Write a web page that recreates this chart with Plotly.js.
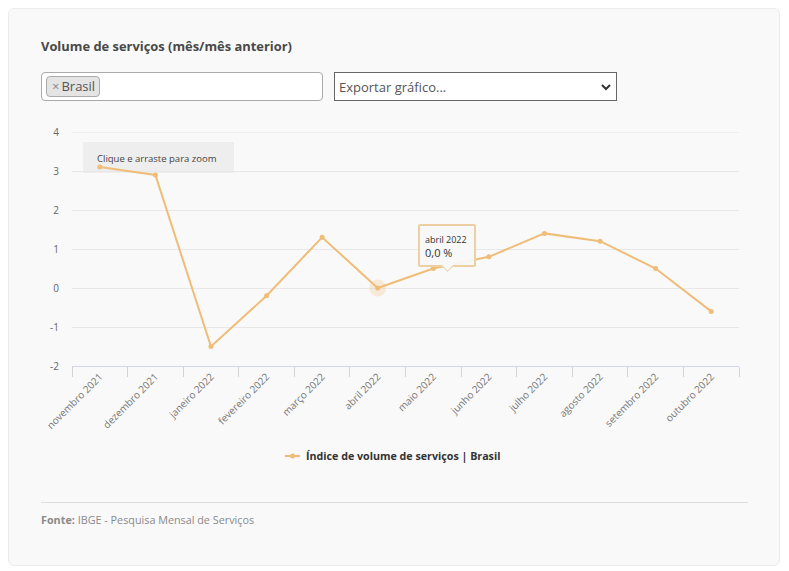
<!DOCTYPE html>
<html><head><meta charset="utf-8">
<script src="https://cdn.plot.ly/plotly-3.0.1.min.js"></script>
<style>
html,body{margin:0;padding:0;background:#fff;width:789px;height:571px;overflow:hidden;font-family:"Open Sans",sans-serif}
.abs{position:absolute;box-sizing:border-box}
#card{left:8px;top:8px;width:772px;height:558px;background:#f9f9f9;border:1px solid #ececec;border-radius:6px}
#title{left:41px;top:37px;font-size:12.9px;font-weight:700;color:#484848}
#tags{left:41px;top:72px;width:282px;height:29px;background:#fff;border:1px solid #aaa;border-radius:4px}
#tag{left:46px;top:76px;width:54px;height:21px;background:#e4e4e4;border:1px solid #aaa;border-radius:4px;font-size:13px;line-height:19px;color:#555;padding-left:5px;white-space:nowrap}
#tag span{color:#888;font-size:13px;margin-right:2px}
#sel{left:334px;top:72px;width:283px;height:29px;background:#fff;border:1px solid #666;font-size:13px;line-height:29px;color:#555;padding-left:4px}
#sel svg{position:absolute;right:5px;top:11px}
#zoom{left:83px;top:142px;width:151px;height:31px;background:#eeeeee;font-size:9.5px;color:#444;padding:10px 0 0 14px;white-space:nowrap}
#chart{left:0;top:0;width:789px;height:571px}
#tip{left:418px;top:224px;width:58px;height:43px;background:rgba(248,248,248,.95);border:2px solid #eccfa3;border-radius:2px;color:#333;padding:7px 0 0 5px}
#tip .a{font-size:9px;line-height:13px}
#tip .b{font-size:11px;line-height:14px}
#tail{left:443px;top:261px;width:9px;height:9px;background:#f8f8f8;transform:rotate(45deg);border-right:1.5px solid #eccfa3;border-bottom:1.5px solid #eccfa3}
#legend{left:285px;top:449px;font-size:10.7px;font-weight:700;color:#333;white-space:nowrap;display:flex;align-items:center}
#legend svg{margin-right:6px}
#rule{left:41px;top:502px;width:707px;height:1px;background:#dedede}
#src{left:41px;top:512px;font-size:10.8px;color:#8a8a8a}
</style></head><body>
<div id="card" class="abs"></div>
<div id="title" class="abs">Volume de serviços (mês/mês anterior)</div>
<div id="tags" class="abs"></div>
<div id="tag" class="abs"><span>×</span>Brasil</div>
<div id="sel" class="abs">Exportar gráfico...<svg width="10" height="7" viewBox="0 0 10 7"><path d="M1 1l4 4 4-4" fill="none" stroke="#333" stroke-width="2"/></svg></div>
<div id="zoom" class="abs">Clique e arraste para zoom</div>
<div id="chart" class="abs"></div>
<div id="tip" class="abs"><div class="a">abril 2022</div><div class="b">0,0 %</div></div>
<div id="tail" class="abs"></div>
<div id="legend" class="abs"><svg width="15" height="6" viewBox="0 0 15 6"><path d="M0 3h15" stroke="#efbd78" stroke-width="2"/><circle cx="7.5" cy="3" r="2.5" fill="#efbd78"/></svg><span id="legendText"></span></div>
<div id="rule" class="abs"></div>
<div id="src" class="abs"><b>Fonte:</b> IBGE - Pesquisa Mensal de Serviços</div>
<script>
const months = ["novembro 2021","dezembro 2021","janeiro 2022","fevereiro 2022","março 2022","abril 2022","maio 2022","junho 2022","julho 2022","agosto 2022","setembro 2022","outubro 2022"];
const values = [3.1,2.9,-1.5,-0.2,1.3,0.0,0.5,0.8,1.4,1.2,0.5,-0.6];
const seriesName = "Índice de volume de serviços | Brasil";
const hoverMonth = "abril 2022";
const yTicks = [-2,-1,0,1,2,3,4];
const lineColor = "#efbd78";
document.getElementById("legendText").textContent = seriesName;
const traces = [
 {x:[hoverMonth],y:[values[months.indexOf(hoverMonth)]],type:"scatter",mode:"markers",showlegend:false,hoverinfo:"skip",
  marker:{size:17,color:"rgba(241,189,114,0.25)"}},
 {x:months,y:values,type:"scatter",mode:"lines+markers",name:seriesName,showlegend:false,
  line:{color:lineColor,width:2},marker:{color:lineColor,size:5}}
];
const layout = {
 width:789,height:571,paper_bgcolor:"rgba(0,0,0,0)",plot_bgcolor:"rgba(0,0,0,0)",
 margin:{l:72,r:50,t:132,b:205},showlegend:false,
 font:{family:'"Open Sans",sans-serif'},
 xaxis:{type:"category",categoryorder:"array",categoryarray:months,range:[-0.5,11.5],tickson:"boundaries",
  ticks:"outside",ticklen:10,tickcolor:"#d4d4d4",tickwidth:1,showline:true,linecolor:"#d3d6ea",linewidth:1,
  showgrid:false,tickangle:-45,tickfont:{size:10,color:"#777"},automargin:false},
 yaxis:{range:[-2,4],tickvals:yTicks,ticktext:yTicks.map(String),gridcolor:"#e8e8e8",gridwidth:1,zeroline:false,
  showline:false,ticks:"",ticklabelstandoff:12,tickfont:{size:10,color:"#666"},automargin:false},
 shapes:[{type:"line",xref:"paper",x0:0,x1:1,yref:"y",y0:yTicks[yTicks.length-1],y1:yTicks[yTicks.length-1],line:{color:"#e8e8e8",width:1},layer:"below"}],
 hovermode:false
};
Plotly.newPlot("chart",traces,layout,{displayModeBar:false,staticPlot:true});
</script>
</body></html>
